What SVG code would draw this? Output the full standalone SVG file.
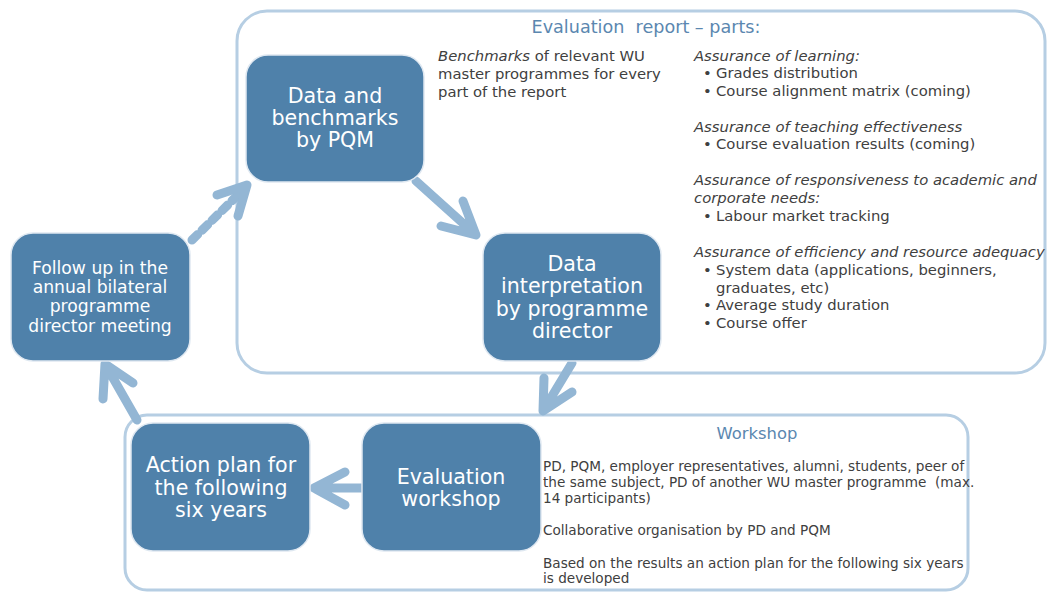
<svg xmlns="http://www.w3.org/2000/svg" width="1047" height="592" viewBox="0 0 1047 592">
<style>
.cont{fill:#fff;stroke:#b6cee3;stroke-width:3}
.node{fill:#4f81aa;stroke:#dfe8f1;stroke-width:1.5}
.nt{font-family:"DejaVu Sans",Verdana,sans-serif;fill:#fff;text-anchor:middle}
.big{font-size:20.6px}
.small{font-size:17.2px}
.hd{font-family:"DejaVu Sans",Verdana,sans-serif;fill:#5b87b0;text-anchor:middle}
.bt{font-family:"DejaVu Sans",Verdana,sans-serif;fill:#404040;font-size:14.8px}
.ws{font-family:"DejaVu Sans",Verdana,sans-serif;fill:#404040;font-size:13.6px}
.arr{fill:none;stroke:#93b6d4;stroke-width:9;stroke-linecap:round;stroke-linejoin:round}
</style>
<g id="report-panel">
<rect class="cont" x="237" y="11" width="808" height="362" rx="30"/>
<text class="hd" x="646" y="33" font-size="17.6">Evaluation&#160; report – parts:</text>
<text class="bt" x="438" y="61"><tspan font-style="italic">Benchmarks</tspan> of relevant WU</text>
<text class="bt" x="438" y="79">master programmes for every</text>
<text class="bt" x="438" y="97">part of the report</text>
<text class="bt" x="694" y="61" font-style="italic">Assurance of learning:</text>
<text class="bt" x="703" y="78">• <tspan x="716">Grades distribution</tspan></text>
<text class="bt" x="703" y="96">• <tspan x="716">Course alignment matrix (coming)</tspan></text>
<text class="bt" x="694" y="132" font-style="italic">Assurance of teaching effectiveness</text>
<text class="bt" x="703" y="149">• <tspan x="716">Course evaluation results (coming)</tspan></text>
<text class="bt" x="694" y="185" font-style="italic">Assurance of responsiveness to academic and</text>
<text class="bt" x="694" y="203" font-style="italic">corporate needs:</text>
<text class="bt" x="703" y="221">• <tspan x="716">Labour market tracking</tspan></text>
<text class="bt" x="694" y="257" font-style="italic">Assurance of efficiency and resource adequacy</text>
<text class="bt" x="703" y="275">• <tspan x="716">System data (applications, beginners,</tspan></text>
<text class="bt" x="716" y="293">graduates, etc)</text>
<text class="bt" x="703" y="310">• <tspan x="716">Average study duration</tspan></text>
<text class="bt" x="703" y="328">• <tspan x="716">Course offer</tspan></text>
</g>
<g id="workshop-panel">
<rect class="cont" x="125" y="415" width="843" height="175" rx="22"/>
<text class="hd" x="757" y="439" font-size="16.4">Workshop</text>
<text class="ws" x="543" y="471">PD, PQM, employer representatives, alumni, students, peer of</text>
<text class="ws" x="543" y="487">the same subject, PD of another WU master programme&#160; (max.</text>
<text class="ws" x="543" y="503">14 participants)</text>
<text class="ws" x="543" y="535">Collaborative organisation by PD and PQM</text>
<text class="ws" x="543" y="568">Based on the results an action plan for the following six years</text>
<text class="ws" x="543" y="583">is developed</text>
</g>
<g id="connectors">
<path class="arr" d="M416 181 L476 235 M463 201 L476 235 L441 226"/>
<path class="arr" d="M572 363 L543 411 M544 378 L543 411 L572 392"/>
<path class="arr" d="M362 488 L314 488 M345 472 L314 488 L345 505"/>
<path class="arr" d="M137 420 L105 364 M133 383 L105 364 L103 399"/>
<path class="arr" d="M192 240 L244 189" stroke-dasharray="8 6" stroke-linecap="butt"/>
<path class="arr" d="M217 195 L247 185 L238 216"/>
</g>
<g id="node-data-benchmarks">
<rect class="node" x="246" y="55" width="178" height="127" rx="22"/>
<text class="nt big" x="335" y="103">Data and</text>
<text class="nt big" x="335" y="125">benchmarks</text>
<text class="nt big" x="335" y="147">by PQM</text>
</g>
<g id="node-data-interpretation">
<rect class="node" x="483" y="233" width="178" height="128" rx="22"/>
<text class="nt big" x="572" y="271">Data</text>
<text class="nt big" x="572" y="293">interpretation</text>
<text class="nt big" x="572" y="316">by programme</text>
<text class="nt big" x="572" y="338">director</text>
</g>
<g id="node-follow-up">
<rect class="node" x="11" y="233" width="179" height="128" rx="22"/>
<text class="nt small" x="100" y="274">Follow up in the</text>
<text class="nt small" x="100" y="293">annual bilateral</text>
<text class="nt small" x="100" y="312">programme</text>
<text class="nt small" x="100" y="332">director meeting</text>
</g>
<g id="node-action-plan">
<rect class="node" x="131" y="423" width="179" height="128" rx="22"/>
<text class="nt big" x="221" y="472">Action plan for</text>
<text class="nt big" x="221" y="495">the following</text>
<text class="nt big" x="221" y="517">six years</text>
</g>
<g id="node-evaluation-workshop">
<rect class="node" x="362" y="423" width="179" height="128" rx="22"/>
<text class="nt big" x="451" y="484">Evaluation</text>
<text class="nt big" x="451" y="506">workshop</text>
</g>
</svg>
